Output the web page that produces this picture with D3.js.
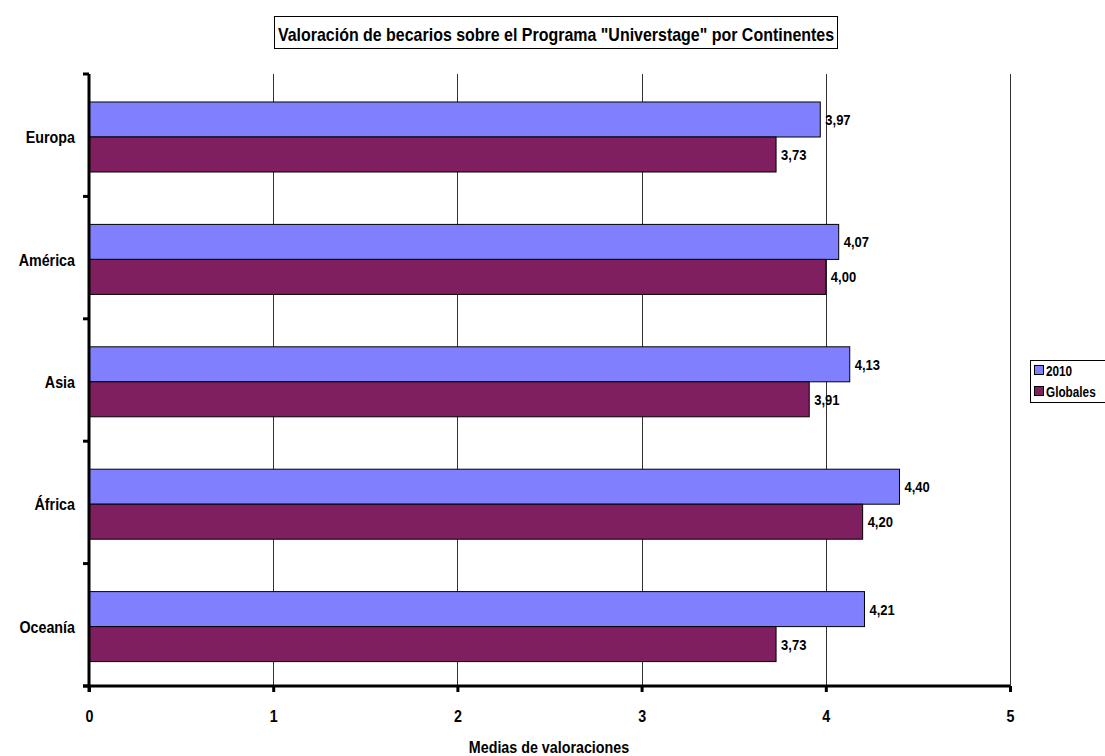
<!DOCTYPE html>
<html><head><meta charset="utf-8">
<script src="https://cdn.jsdelivr.net/npm/d3@7"></script>
<style>body{margin:0;background:#fff}svg{display:block}text{font-family:"Liberation Sans",Arial,sans-serif;font-weight:bold;fill:#000}</style>
</head><body>
<svg id="c" width="1105" height="756"></svg>
<script>
const categories = ["Europa","América","Asia","África","Oceanía"];
const seriesNames = ["2010","Globales"];
const values2010 = [3.97,4.07,4.13,4.40,4.21];
const valuesGlobales = [3.73,4.00,3.91,4.20,3.73];
const xTicks = [0,1,2,3,4,5];
const colors = ["#8080ff","#7f1f5f"];

(function(){
const svg = d3.select("#c");
const pLeft = 89, pRight = 1010, pTop = 74, pBottom = 686;
const x = d3.scaleLinear().domain([0,5]).range([pLeft,pRight]);
const y = d3.scaleBand().domain(categories).range([pTop,pBottom]);
const inner = d3.scaleBand().domain(seriesNames).range([28, 98]);

// gridlines
svg.append("g").selectAll("line").data(xTicks.slice(1)).join("line")
  .attr("x1",d=>Math.round(x(d))+0.5).attr("x2",d=>Math.round(x(d))+0.5).attr("y1",pTop).attr("y2",pBottom)
  .attr("stroke","#000").attr("stroke-width",1).attr("opacity",0.8);

const series = [values2010, valuesGlobales];
categories.forEach((c,i)=>{
  series.forEach((vals,s)=>{
    const yy = y(c)+inner(seriesNames[s]);
    svg.append("rect").attr("x",x(0)).attr("y",yy).attr("width",x(vals[i])-x(0)).attr("height",inner.bandwidth())
      .attr("fill",colors[s]).attr("stroke","#000").attr("stroke-width",1);
    svg.append("text").attr("x",x(vals[i])+5).attr("y",yy+inner.bandwidth()/2+5.5)
      .attr("font-size",15.5).text(vals[i].toFixed(2).replace(".",","));
  });
});

// axes
const xAxis = d3.axisBottom(x).tickValues(xTicks).tickSize(6).tickFormat(d=>d);
const gx = svg.append("g").attr("transform",`translate(0,${pBottom})`).call(xAxis);
gx.select(".domain").attr("stroke-width",3).attr("d",`M${pLeft-6},0H${pRight}`);
gx.selectAll(".tick line").attr("stroke-width",3);
gx.selectAll(".tick text").attr("font-size",17).attr("font-family",null).attr("dy",null).attr("y",36).attr("fill","#000");
gx.attr("font-family",null).attr("font-size",null);

const yTickPos = d3.range(categories.length+1).map(i=>pTop + i*y.step());
svg.append("line").attr("x1",pLeft).attr("x2",pLeft).attr("y1",pTop).attr("y2",pBottom+6).attr("stroke","#000").attr("stroke-width",3);
svg.append("g").selectAll("line").data(yTickPos).join("line")
  .attr("x1",pLeft-6).attr("x2",pLeft).attr("y1",d=>d).attr("y2",d=>d).attr("stroke","#000").attr("stroke-width",3);
svg.append("g").selectAll("text").data(categories).join("text")
  .attr("x",75).attr("y",d=>y(d)+y.bandwidth()/2+8).attr("text-anchor","end").attr("font-size",17).text(d=>d);

// axis title
svg.append("text").attr("x",549).attr("y",753).attr("text-anchor","middle").attr("font-size",17).text("Medias de valoraciones");

// title
svg.append("rect").attr("x",274.5).attr("y",16.5).attr("width",563).attr("height",32).attr("fill","#fff").attr("stroke","#000");
svg.append("text").attr("x",556).attr("y",41).attr("text-anchor","middle").attr("font-size",19)
  .text('Valoración de becarios sobre el Programa "Universtage" por Continentes');

// legend
const lg = svg.append("g");
lg.append("rect").attr("x",1030.5).attr("y",360.5).attr("width",80).attr("height",42).attr("fill","#fff").attr("stroke","#000");
seriesNames.forEach((n,i)=>{
  lg.append("rect").attr("x",1034.5).attr("y",365.5+i*21).attr("width",9).attr("height",9).attr("fill",colors[i]).attr("stroke","#000");
  lg.append("text").attr("x",1046).attr("y",376+i*21).attr("font-size",14).text(n);
});

// condense glyphs to mimic a narrow typeface
svg.selectAll("text").each(function(){
  const L = this.getComputedTextLength();
  d3.select(this).attr("textLength", L*0.84).attr("lengthAdjust","spacingAndGlyphs");
});
})();
</script>
</body></html>
